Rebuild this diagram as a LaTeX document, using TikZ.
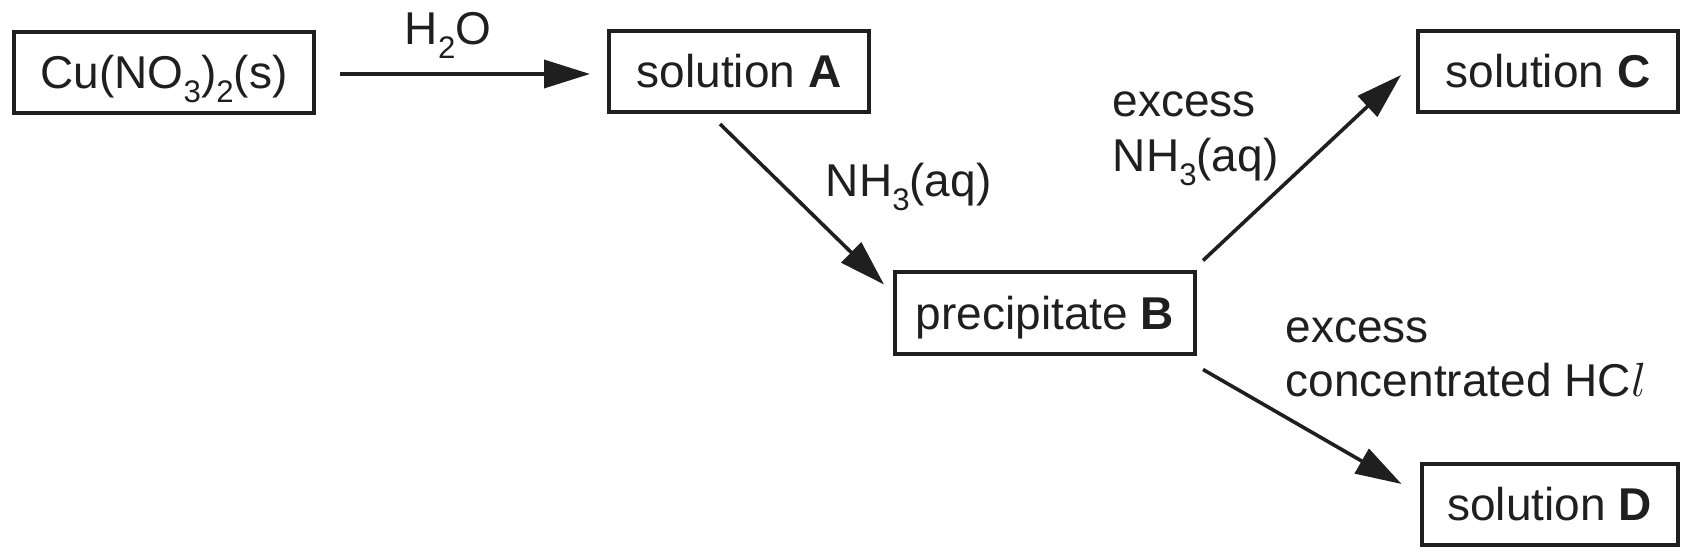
\documentclass[tikz,border=0pt]{standalone}
\usepackage{fontspec}
\setmainfont{Liberation Sans}
\usetikzlibrary{arrows.meta}
\definecolor{ink}{HTML}{1F1F1F}
\newcommand\chsub[1]{\raisebox{-3.5pt}{\fontsize{7.8}{8}\selectfont #1}}
\begin{document}
\begin{tikzpicture}[x=0.25pt,y=-0.25pt,
  font=\fontsize{11.5}{13.8}\selectfont,
  every node/.style={text=ink},
  boxnode/.style={draw=ink, line width=1pt, inner sep=0pt, minimum height=20.25pt,
    text height=8.2pt, text depth=0pt},
  lbl/.style={inner sep=0pt, anchor=base west},
  arr/.style={draw=ink, line width=0.9pt, -{Triangle[length=11.5pt,width=7pt]}}]
\useasboundingbox (0,0) rectangle (1687,555);
\node[boxnode, minimum width=75pt] (cu) at (164,72.5) {Cu(NO\chsub{3})\chsub{2}(s)};
\node[boxnode, minimum width=65pt] (A) at (739,71.5) {solution \textbf{A}};
\node[boxnode, minimum width=75pt] (B) at (1045,313) {precipitate \textbf{B}};
\node[boxnode, minimum width=65pt] (C) at (1548,71.5) {solution \textbf{C}};
\node[boxnode, minimum width=64pt] (D) at (1549.5,504.5) {solution \textbf{D}};
\node[inner sep=0pt, anchor=base] (lh2o) at (448,45) {H\chsub{2}O};
\node[lbl] (lnh3) at (825,197) {NH\chsub{3}(aq)};
\node[lbl] (lca) at (1112,117) {excess};
\node[lbl] (lcb) at (1112,172) {NH\chsub{3}(aq)};
\node[lbl] (lda) at (1285,342) {excess};
\node[lbl] (ldb) at (1285,397) {concentrated HC$l$};
\draw[arr] ([shift={(24,1.5)}]cu.east) -- ([shift={(-17,2.5)}]A.west);
\draw[arr] ([shift={(-19,10)}]A.south) -- ([shift={(-9,14)}]B.north west);
\draw[arr] ([shift={(6,-10)}]B.north east) -- ([shift={(-15,3.5)}]C.west);
\draw[arr] ([shift={(6,14)}]B.south east) -- ([shift={(-18,-20.5)}]D.west);
\end{tikzpicture}
\end{document}
